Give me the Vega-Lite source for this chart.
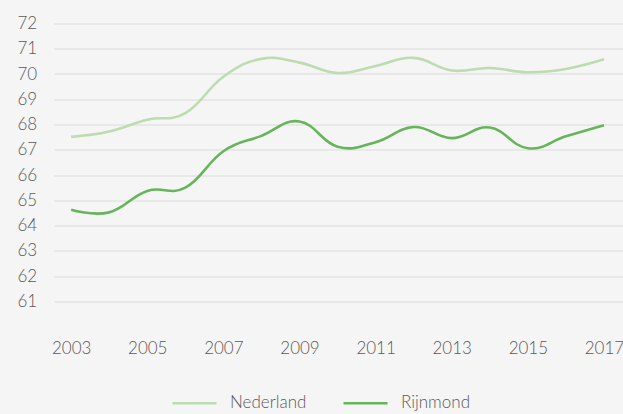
{
  "$schema": "https://vega.github.io/schema/vega-lite/v6.json",
  "width": 569,
  "height": 303,
  "autosize": {"type": "none"},
  "padding": {"left": 54, "top": 23.5, "right": 0, "bottom": 87.5},
  "background": "#f5f5f5",
  "config": {
    "view": {"stroke": null},
    "font": "Lato",
    "axis": {"labelColor": "#595959", "labelFont": "Lato", "labelFontWeight": 300, "labelFontSize": 17}
  },
  "data": {
    "values": [
      {"year": 2003, "series": "Nederland", "value": 67.51},
      {"year": 2004, "series": "Nederland", "value": 67.72},
      {"year": 2005, "series": "Nederland", "value": 68.19},
      {"year": 2006, "series": "Nederland", "value": 68.45},
      {"year": 2007, "series": "Nederland", "value": 69.89},
      {"year": 2008, "series": "Nederland", "value": 70.6},
      {"year": 2009, "series": "Nederland", "value": 70.45},
      {"year": 2010, "series": "Nederland", "value": 70.04},
      {"year": 2011, "series": "Nederland", "value": 70.32},
      {"year": 2012, "series": "Nederland", "value": 70.64},
      {"year": 2013, "series": "Nederland", "value": 70.14},
      {"year": 2014, "series": "Nederland", "value": 70.24},
      {"year": 2015, "series": "Nederland", "value": 70.07},
      {"year": 2016, "series": "Nederland", "value": 70.2},
      {"year": 2017, "series": "Nederland", "value": 70.58},
      {"year": 2003, "series": "Rijnmond", "value": 64.62},
      {"year": 2004, "series": "Rijnmond", "value": 64.52},
      {"year": 2005, "series": "Rijnmond", "value": 65.37},
      {"year": 2006, "series": "Rijnmond", "value": 65.5},
      {"year": 2007, "series": "Rijnmond", "value": 66.94},
      {"year": 2008, "series": "Rijnmond", "value": 67.55},
      {"year": 2009, "series": "Rijnmond", "value": 68.12},
      {"year": 2010, "series": "Rijnmond", "value": 67.12},
      {"year": 2011, "series": "Rijnmond", "value": 67.3},
      {"year": 2012, "series": "Rijnmond", "value": 67.9},
      {"year": 2013, "series": "Rijnmond", "value": 67.46},
      {"year": 2014, "series": "Rijnmond", "value": 67.88},
      {"year": 2015, "series": "Rijnmond", "value": 67.06},
      {"year": 2016, "series": "Rijnmond", "value": 67.53},
      {"year": 2017, "series": "Rijnmond", "value": 67.97}
    ]
  },
  "mark": {"type": "line", "interpolate": "cardinal", "tension": -0.25, "strokeWidth": 2.6},
  "encoding": {
    "x": {
      "field": "year",
      "type": "quantitative",
      "scale": {"domain": [2002.55, 2017.5]},
      "axis": {
        "title": null,
        "values": [2003, 2005, 2007, 2009, 2011, 2013, 2015, 2017],
        "format": "d",
        "grid": false,
        "domain": false,
        "ticks": false,
        "labelPadding": 14
      }
    },
    "y": {
      "field": "value",
      "type": "quantitative",
      "scale": {"domain": [60, 72]},
      "axis": {
        "title": null,
        "values": [61, 62, 63, 64, 65, 66, 67, 68, 69, 70, 71, 72],
        "grid": true,
        "gridColor": "#dcdcdc",
        "gridWidth": 1.2,
        "domain": false,
        "ticks": false,
        "labelAlign": "left",
        "labelPadding": 37
      }
    },
    "color": {
      "field": "series",
      "type": "nominal",
      "scale": {"domain": ["Nederland", "Rijnmond"], "range": ["#bddcb0", "#66b55b"]},
      "legend": {
        "orient": "none",
        "legendX": 117,
        "legendY": 356,
        "direction": "horizontal",
        "title": null,
        "symbolType": "stroke",
        "symbolSize": 1936,
        "symbolStrokeWidth": 2.6,
        "labelFontSize": 17,
        "labelFont": "Lato",
        "labelFontWeight": 300,
        "labelColor": "#595959",
        "labelOffset": 12,
        "columnPadding": 31
      }
    }
  }
}
